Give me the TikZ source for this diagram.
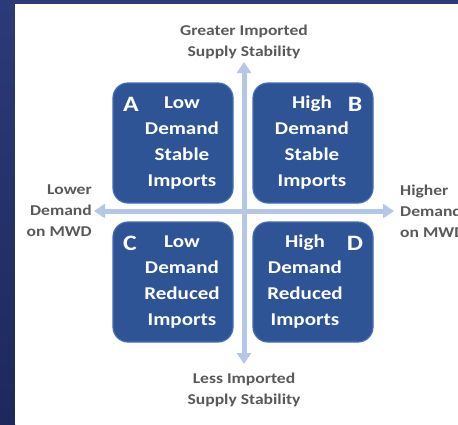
\documentclass[tikz,border=0pt]{standalone}
\usepackage{fontspec}
\setmainfont{Carlito}[FakeStretch=1.17]
\usetikzlibrary{arrows.meta}
\definecolor{navy}{RGB}{44,58,122}
\definecolor{navydark}{RGB}{30,40,90}
\definecolor{quadfill}{RGB}{46,84,150}
\definecolor{quadedge}{RGB}{70,110,180}
\definecolor{axiscol}{RGB}{180,199,231}
\definecolor{labcol}{RGB}{89,89,89}
\tikzset{
  quad/.style={draw=quadedge, line width=1.2pt, fill=quadfill, rounded corners=15pt,
    minimum width=120pt, minimum height=120pt, inner sep=0pt},
  quadtext/.style={text=white, font=\bfseries\fontsize{18}{26}\selectfont, align=center, inner sep=0pt},
  letter/.style={text=white, font=\bfseries\fontsize{22}{26}\selectfont, inner sep=0pt},
  axislab/.style={text=labcol, font=\bfseries\fontsize{15}{21}\selectfont, inner sep=0pt},
  axis/.style={draw=axiscol, line width=5pt, {Triangle[width=14pt,length=11pt]}-{Triangle[width=14pt,length=11pt]}}
}
\begin{document}
\begin{tikzpicture}[x=1pt,y=-1pt]
\useasboundingbox (0,0) rectangle (458,424);
\clip (0,0) rectangle (458,424);
\fill[navy] (0,0) rectangle (458,424);
\shade[top color=navy, bottom color=navydark] (0,0) rectangle (15,424);
\fill[white] (15,4) rectangle (458,424);
% axes
\coordinate (top) at (244,62);
\coordinate (bot) at (244,364);
\coordinate (lft) at (94,211);
\coordinate (rgt) at (394,211);
\draw[axis] (bot) -- (top);
\draw[axis] (lft) -- (rgt);
% quadrants
\node[quad] (qa) at (173,143) {};
\node[quad] (qb) at (313,143) {};
\node[quad] (qc) at (173,282) {};
\node[quad] (qd) at (313,282) {};
\node[quadtext] (ta) at (182,143) {Low\\Demand\\Stable\\Imports};
\node[quadtext] (tb) at (312,143) {High\\Demand\\Stable\\Imports};
\node[quadtext] (tc) at (182,282) {Low\\Demand\\Reduced\\Imports};
\node[quadtext] (td) at (305,282) {High\\Demand\\Reduced\\Imports};
\node[letter] (la) at (131,104) {A};
\node[letter] (lb) at (355,104) {B};
\node[letter] (lc) at (130,243) {C};
\node[letter] (ld) at (355,243) {D};
% axis labels
\node[axislab, align=center] (gt) at (244,42) {Greater Imported\\Supply Stability};
\node[axislab, align=center] (ls) at (244,390) {Less Imported\\Supply Stability};
\node[axislab, align=right, anchor=east] (lw) at (92,211) {Lower\\Demand\\on MWD};
\node[axislab, align=left, anchor=west] (hg) at (400,211) {Higher\\Demand\\on MWD};
\end{tikzpicture}
\end{document}
